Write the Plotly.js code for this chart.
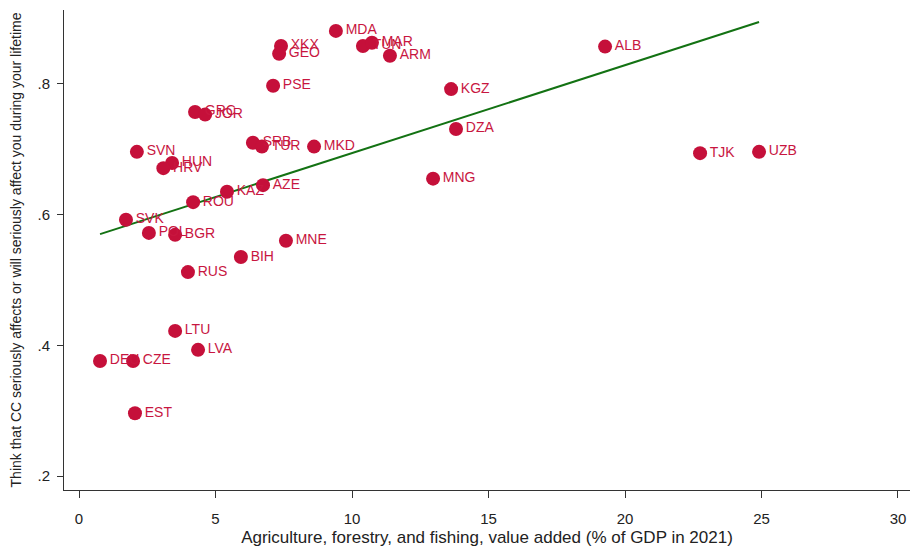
<!DOCTYPE html>
<html>
<head>
<meta charset="utf-8">
<script src="https://cdn.plot.ly/plotly-3.0.1.min.js"></script>
<style>
  html, body { margin: 0; padding: 0; background: #ffffff; }
  #chart { width: 910px; height: 550px; }
</style>
</head>
<body>
<div id="chart"></div>
<script>
// Country codes
const countries = ["MDA","XKX","GEO","TUN","MAR","ARM","ALB","PSE","KGZ","GRC","JOR","DZA",
  "SRB","TUR","MKD","SVN","HUN","HRV","MNG","TJK","UZB","AZE","KAZ","ROU","SVK","POL",
  "BGR","MNE","BIH","RUS","LTU","LVA","DEU","CZE","EST"];

// Agriculture, forestry and fishing, value added (% of GDP, 2021)
const agriShare = [9.41,7.40,7.33,10.40,10.73,11.39,19.27,7.11,13.63,4.25,4.62,13.81,
  6.37,6.70,8.61,2.12,3.41,3.09,12.97,22.75,24.91,6.74,5.42,4.18,1.72,2.56,
  3.52,7.58,5.93,3.99,3.52,4.36,0.77,1.98,2.05];

// Share thinking climate change seriously affects / will affect them
const ccAffects = [0.881,0.858,0.846,0.858,0.863,0.843,0.857,0.797,0.792,0.757,0.753,0.731,
  0.710,0.704,0.704,0.696,0.679,0.671,0.655,0.694,0.696,0.645,0.635,0.619,0.592,0.572,
  0.569,0.560,0.535,0.512,0.422,0.393,0.376,0.376,0.296];

// Axis ticks
const xTicks = [0,5,10,15,20,25,30];
const yTicks = [0.2,0.4,0.6,0.8];
const yTickText = [".2",".4",".6",".8"];

// Least-squares linear fit over the observed range
function linearFit(xs, ys) {
  const n = xs.length;
  const mx = xs.reduce((a,b)=>a+b,0)/n;
  const my = ys.reduce((a,b)=>a+b,0)/n;
  let sxy = 0, sxx = 0;
  for (let i = 0; i < n; i++) { sxy += (xs[i]-mx)*(ys[i]-my); sxx += (xs[i]-mx)*(xs[i]-mx); }
  const b = sxy/sxx, a = my - b*mx;
  const lo = Math.min(...xs), hi = Math.max(...xs);
  return { x: [lo, hi], y: [a + b*lo, a + b*hi] };
}
const fit = linearFit(agriShare, ccAffects);

const red = "#C5103A";
const font = "Liberation Sans, Arial, sans-serif";

const traces = [
  {
    x: fit.x, y: fit.y, type: "scatter", mode: "lines",
    line: { color: "#137213", width: 2 }, hoverinfo: "skip"
  },
  {
    x: agriShare, y: ccAffects, text: countries, type: "scatter", mode: "markers+text",
    textposition: "middle right",
    marker: { color: red, size: 14, line: { width: 0 } },
    textfont: { family: font, size: 14, color: "#C8163F" }
  }
];

const layout = {
  width: 910, height: 550,
  paper_bgcolor: "#ffffff", plot_bgcolor: "#ffffff",
  showlegend: false,
  margin: { l: 64, r: 0, t: 10, b: 60 },
  font: { family: font, color: "#222222", size: 14 },
  xaxis: {
    range: [-0.55, 30.44], tickmode: "array", tickvals: xTicks,
    ticks: "outside", ticklen: 7, tickcolor: "#333", tickwidth: 1,
    ticklabelstandoff: 8,
    showline: true, linecolor: "#333", linewidth: 1,
    showgrid: false, zeroline: false,
    tickfont: { family: font, size: 15, color: "#222" },
    title: { text: "Agriculture, forestry, and fishing, value added (% of GDP in 2021)",
             font: { family: font, size: 17, color: "#222" }, standoff: 5 }
  },
  yaxis: {
    range: [0.1786, 0.913], tickmode: "array", tickvals: yTicks, ticktext: yTickText,
    ticks: "outside", ticklen: 6, tickcolor: "#333", tickwidth: 1,
    ticklabelstandoff: 4,
    showline: true, linecolor: "#333", linewidth: 1,
    showgrid: false, zeroline: false,
    tickfont: { family: font, size: 15, color: "#222" },
    title: { text: "Think that CC seriously affects or will seriously affect you during your lifetime",
             font: { family: font, size: 14, color: "#222" }, standoff: 12 }
  }
};

Plotly.newPlot("chart", traces, layout, { displayModeBar: false, staticPlot: true });
</script>
</body>
</html>
